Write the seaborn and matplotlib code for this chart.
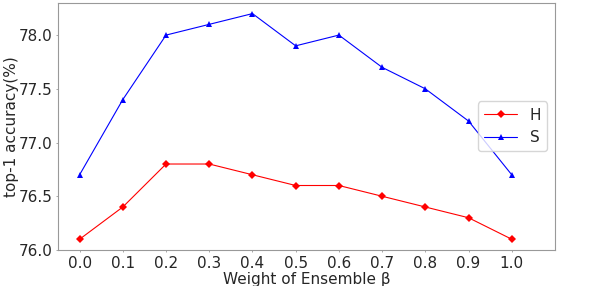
import matplotlib
matplotlib.use("Agg")
import matplotlib.pyplot as plt
import seaborn as sns
import pandas as pd

weights = [0.0, 0.1, 0.2, 0.3, 0.4, 0.5, 0.6, 0.7, 0.8, 0.9, 1.0]
acc_h = [76.1, 76.4, 76.8, 76.8, 76.7, 76.6, 76.6, 76.5, 76.4, 76.3, 76.1]
acc_s = [76.7, 77.4, 78.0, 78.1, 78.2, 77.9, 78.0, 77.7, 77.5, 77.2, 76.7]
tick_labels = ["0.0", "0.1", "0.2", "0.3", "0.4", "0.5", "0.6", "0.7", "0.8", "0.9", "1.0"]

df = pd.DataFrame({"beta": weights * 2,
                   "acc": acc_h + acc_s,
                   "method": ["H"] * len(acc_h) + ["S"] * len(acc_s)})

sns.set_style("white")
plt.rcParams['font.family'] = ['DejaVu Sans']

fig = plt.figure(figsize=(5.98, 2.86), dpi=100)
ax = fig.add_axes([0.097, 0.126, 0.831, 0.864])

sns.lineplot(data=df, x="beta", y="acc", hue="method", style="method",
             palette={"H": "red", "S": "blue"},
             markers={"H": "D", "S": "^"}, dashes=False,
             linewidth=0.8, markersize=4.5, markeredgewidth=0, ax=ax)

ax.set_xlim(-0.05, 1.1)
ax.set_ylim(76.0, 78.3)
ax.set_xticks(weights)
ax.set_xticklabels(tick_labels)
ax.set_yticks([76.0, 76.5, 77.0, 77.5, 78.0])
ax.tick_params(labelsize=11, length=1.5, width=0.6, pad=2.5, color="#999999",
               bottom=True, left=True)
ax.set_xlabel("Weight of Ensemble β", fontsize=11, labelpad=1)
ax.set_ylabel("top-1 accuracy(%)", fontsize=11, labelpad=0)
for sp in ax.spines.values():
    sp.set_color("#999999")

ax.legend(loc="center right", fontsize=11, title=None, frameon=True,
          handlelength=2.2)

fig.savefig("out.png", dpi=100)
